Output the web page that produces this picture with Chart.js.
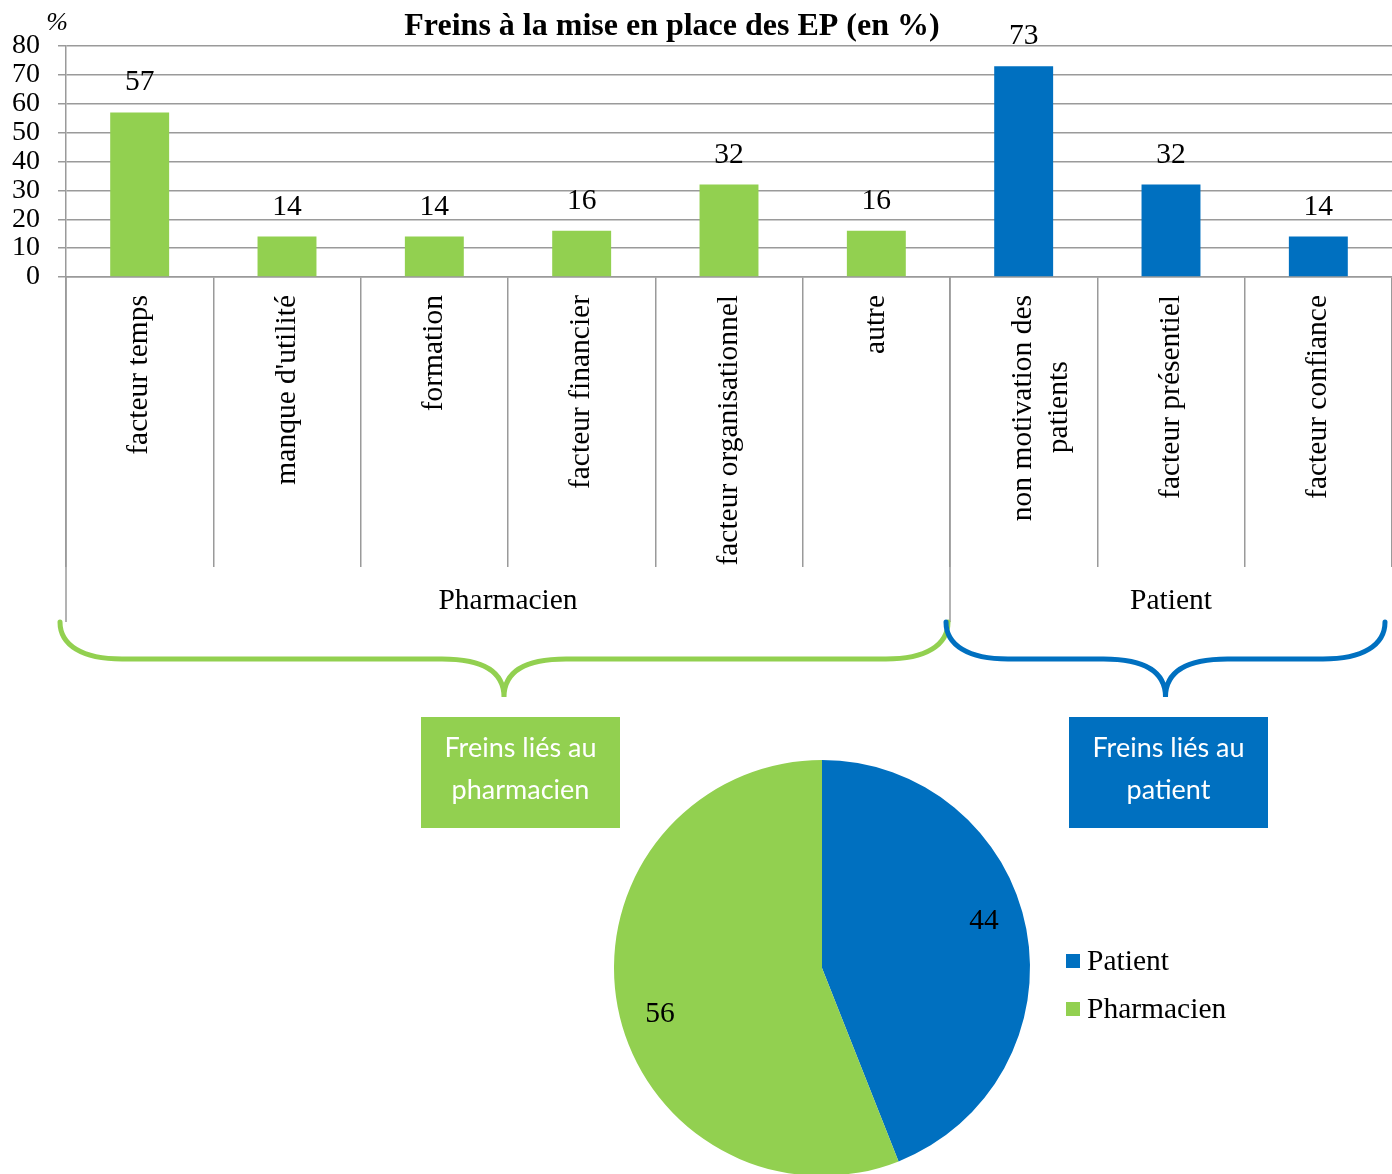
<!DOCTYPE html>
<html>
<head>
<meta charset="utf-8">
<script src="https://cdn.jsdelivr.net/npm/chart.js@4.4.0/dist/chart.umd.min.js"></script>
<style>
  body { margin: 0; background: #fff; width: 1392px; height: 1174px; overflow: hidden; position: relative; }
  #barres { position: absolute; left: 0; top: 0; }
  #camembert { position: absolute; left: 614px; top: 760px; }
</style>
</head>
<body>
<canvas id="barres" width="1392" height="840"></canvas>
<canvas id="camembert" width="700" height="416"></canvas>
<script>
// donnees du graphique
var categories = ['facteur temps', "manque d'utilité", 'formation', 'facteur financier',
  'facteur organisationnel', 'autre', ['non motivation des', 'patients'],
  'facteur présentiel', 'facteur confiance'];
var valeurs = [57, 14, 14, 16, 32, 16, 73, 32, 14];
var groupes = ['Pharmacien', 'Patient'];
var tailleGroupes = [6, 3];
var boites = [['Freins liés au', 'pharmacien'], ['Freins liés au', 'patient']];
var yTicks = [0, 10, 20, 30, 40, 50, 60, 70, 80];
var pieLabels = ['Patient', 'Pharmacien'];
var pieValeurs = [44, 56];

var VERT = '#92D050';
var BLEU = '#0070C0';
var GRIS = '#9a9a9a';
var SERIF = '"Liberation Serif", "Times New Roman", serif';
var TAILLE = 29.5;

var couleursBarres = [];
for (var g = 0; g < tailleGroupes.length; g++) {
  for (var k = 0; k < tailleGroupes[g]; k++) couleursBarres.push(g === 0 ? VERT : BLEU);
}

// centre les lignes d'une etiquette sur deux lignes (espaces en fin de ligne)
var mesure = document.createElement('canvas').getContext('2d');
mesure.font = TAILLE + 'px ' + SERIF;
function etiquette(value, index) {
  var lab = categories[index];
  if (!Array.isArray(lab)) return lab;
  var wmax = Math.max.apply(null, lab.map(function (l) { return mesure.measureText(l).width; }));
  var esp = mesure.measureText(' ').width;
  return lab.map(function (l) {
    var n = Math.round((wmax - mesure.measureText(l).width) / 2 / esp);
    return l + new Array(n + 1).join(' ');
  });
}

// titre, etiquettes de valeurs, groupes, accolades et encadres
var decorBarres = {
  id: 'decorBarres',
  afterDraw: function (chart) {
    var ctx = chart.ctx;
    var area = chart.chartArea;
    var meta = chart.getDatasetMeta(0);
    ctx.save();

    ctx.fillStyle = '#000';
    ctx.textAlign = 'center';
    ctx.textBaseline = 'middle';
    ctx.font = 'bold 32px ' + SERIF;
    ctx.fillText('Freins à la mise en place des EP (en %)', 672, 27);
    ctx.font = 'italic 26px ' + SERIF;
    ctx.fillText('%', 57, 23);

    // valeurs au-dessus des barres
    ctx.font = TAILLE + 'px ' + SERIF;
    ctx.textBaseline = 'alphabetic';
    meta.data.forEach(function (bar, i) {
      ctx.fillText(valeurs[i], bar.x, bar.y - 22);
    });

    // limites des groupes
    var largeur = (area.right - area.left) / categories.length;
    var bornes = [area.left];
    var cumul = 0;
    tailleGroupes.forEach(function (n) {
      cumul += n;
      bornes.push(area.left + cumul * largeur);
    });

    ctx.strokeStyle = GRIS;
    ctx.lineWidth = 1.5;
    for (var b = 0; b < bornes.length - 1; b++) {
      ctx.beginPath();
      ctx.moveTo(bornes[b], area.bottom);
      ctx.lineTo(bornes[b], 622);
      ctx.stroke();
    }

    ctx.font = TAILLE + 'px ' + SERIF;
    ctx.textBaseline = 'middle';
    for (var j = 0; j < groupes.length; j++) {
      ctx.fillText(groupes[j], (bornes[j] + bornes[j + 1]) / 2, 601);
    }

    // accolades
    var accolades = [
      { x1: bornes[0] - 6, x2: bornes[1] - 2, c: VERT },
      { x1: bornes[1] - 4, x2: Math.min(bornes[2], 1392) - 7, c: BLEU }
    ];
    accolades.forEach(function (a) {
      var yh = 622, ym = 659, yb = 697;
      var xm = (a.x1 + a.x2) / 2;
      ctx.strokeStyle = a.c;
      ctx.lineWidth = 5;
      ctx.lineCap = 'round';
      ctx.beginPath();
      ctx.moveTo(a.x1, yh);
      ctx.bezierCurveTo(a.x1, 645, a.x1 + 22, ym, a.x1 + 62, ym);
      ctx.lineTo(xm - 62, ym);
      ctx.bezierCurveTo(xm - 20, ym, xm, 672, xm, yb);
      ctx.bezierCurveTo(xm, 672, xm + 20, ym, xm + 62, ym);
      ctx.lineTo(a.x2 - 62, ym);
      ctx.bezierCurveTo(a.x2 - 22, ym, a.x2, 645, a.x2, yh);
      ctx.stroke();
    });

    // encadres
    var posBoites = [421, 1069];
    ctx.font = '27px Lato, "Open Sans", sans-serif';
    for (var m = 0; m < boites.length; m++) {
      ctx.fillStyle = m === 0 ? VERT : BLEU;
      ctx.fillRect(posBoites[m], 717, 199, 111);
      ctx.fillStyle = '#fff';
      ctx.fillText(boites[m][0], posBoites[m] + 99.5, 748);
      ctx.fillText(boites[m][1], posBoites[m] + 99.5, 790);
    }
    ctx.restore();
  }
};

new Chart(document.getElementById('barres'), {
  type: 'bar',
  data: {
    labels: categories,
    datasets: [{
      data: valeurs,
      backgroundColor: couleursBarres,
      barPercentage: 0.4,
      categoryPercentage: 1
    }]
  },
  options: {
    responsive: false,
    animation: false,
    layout: { padding: { top: 46, right: 0, left: 0, bottom: 0 } },
    plugins: { legend: { display: false }, tooltip: { enabled: false } },
    scales: {
      x: {
        afterFit: function (s) { s.height = 840 - 277; },
        grid: { offset: true, drawOnChartArea: false, tickLength: 290, color: GRIS, lineWidth: 1.5 },
        border: { color: GRIS, width: 1.5 },
        ticks: {
          autoSkip: false, maxRotation: 90, minRotation: 90, padding: -272,
          color: '#000', font: { family: SERIF, size: TAILLE },
          callback: etiquette
        }
      },
      y: {
        min: 0, max: 80,
        afterFit: function (s) { s.width = 66; },
        afterBuildTicks: function (s) { s.ticks = yTicks.map(function (v) { return { value: v }; }); },
        grid: { color: GRIS, lineWidth: 1.5, tickLength: 8 },
        border: { color: GRIS, width: 1.5 },
        ticks: { autoSkip: false, stepSize: 10, padding: 18, color: '#000', font: { family: SERIF, size: 28 } }
      }
    }
  },
  plugins: [decorBarres]
});

// legende et etiquettes du camembert
var decorPie = {
  id: 'decorPie',
  afterDraw: function (chart) {
    var ctx = chart.ctx;
    var meta = chart.getDatasetMeta(0);
    ctx.save();
    ctx.fillStyle = '#000';
    ctx.font = TAILLE + 'px ' + SERIF;
    ctx.textAlign = 'center';
    ctx.textBaseline = 'middle';
    meta.data.forEach(function (arc, i) {
      var a = (arc.startAngle + arc.endAngle) / 2 - 0.09;
      var r = arc.outerRadius * 0.81;
      ctx.fillText(pieValeurs[i], arc.x + Math.cos(a) * r, arc.y + Math.sin(a) * r);
    });
    ctx.textAlign = 'left';
    pieLabels.forEach(function (lab, i) {
      var y = 201 + i * 48;
      ctx.fillStyle = i === 0 ? BLEU : VERT;
      ctx.fillRect(452, y - 7, 14, 14);
      ctx.fillStyle = '#000';
      ctx.fillText(lab, 473, y + 1);
    });
    ctx.restore();
  }
};

new Chart(document.getElementById('camembert'), {
  type: 'pie',
  data: {
    labels: pieLabels,
    datasets: [{ data: pieValeurs, backgroundColor: [BLEU, VERT], borderWidth: 0 }]
  },
  options: {
    responsive: false,
    animation: false,
    layout: { padding: { right: 284 } },
    plugins: { legend: { display: false }, tooltip: { enabled: false } }
  },
  plugins: [decorPie]
});
</script>
</body>
</html>
